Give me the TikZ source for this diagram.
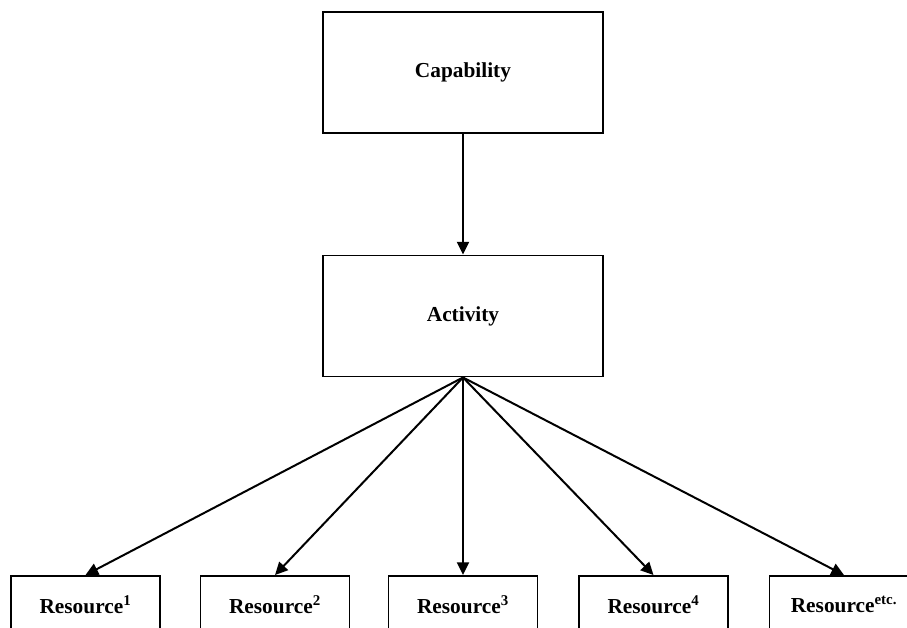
\documentclass[tikz,border=0pt]{standalone}
\usepackage{fontspec}
\setmainfont{Liberation Serif}
\usetikzlibrary{arrows.meta}
\begin{document}
\begin{tikzpicture}[x=0.75pt,y=-0.75pt,
  bigbox/.style={draw,line width=1.2pt,minimum width=210pt,minimum height=91pt,
    font=\fontsize{16}{19}\selectfont\bfseries,inner sep=0pt},
  resbox/.style={draw,line width=1.2pt,minimum width=112pt,minimum height=43pt,
    font=\fontsize{16}{19}\selectfont\bfseries,inner sep=0pt},
  link/.style={line width=1.5pt,-{Triangle[length=9.5pt,width=9pt]}}]
  \useasboundingbox (0,0) rectangle (907,628);
  % upper boxes
  \node[bigbox] (cap) at (463,72.5) {Capability};
  \node[bigbox] (act) at (463,316) {Activity};
  % resource boxes along the bottom
  \node[resbox] (r1) at (85.5,604.5) {Resource\textsuperscript{1}};
  \node[resbox] (r2) at (275,604.5) {Resource\textsuperscript{2}};
  \node[resbox] (r3) at (463,604.5) {Resource\textsuperscript{3}};
  \node[resbox] (r4) at (653.5,604.5) {Resource\textsuperscript{4}};
  \node[resbox] (r5) at (844,604.5) {Resource\textsuperscript{etc.}};
  % connectors
  \draw[link] (cap.south) -- (act.north);
  \foreach \r in {r1,r2,r3,r4,r5}
    \draw[link] (act.south) -- (\r.north);
\end{tikzpicture}
\end{document}
